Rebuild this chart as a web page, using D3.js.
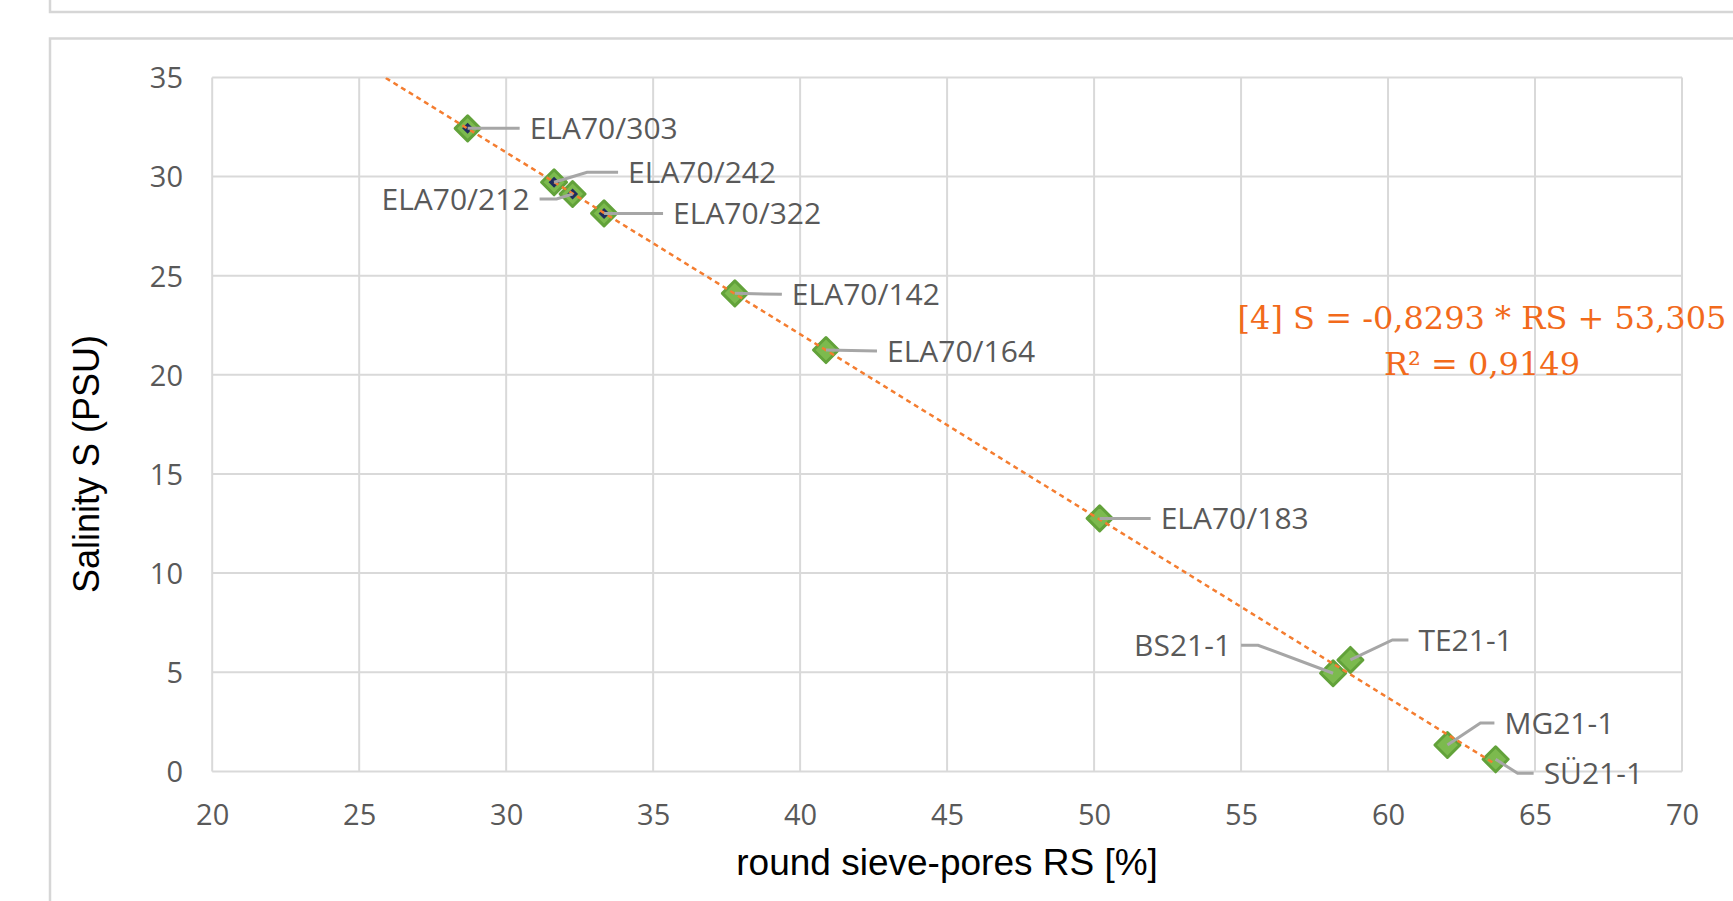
<!DOCTYPE html>
<html>
<head>
<meta charset="utf-8">
<script src="https://cdn.jsdelivr.net/npm/d3@7/dist/d3.min.js"></script>
<style>
  html, body { margin: 0; padding: 0; background: #fff; }
  svg { display: block; }
</style>
</head>
<body>
<svg id="chart" width="1733" height="901"></svg>
<script>
// ---------- data ----------
const sampleNames = ["ELA70/303", "ELA70/242", "ELA70/212", "ELA70/322", "ELA70/142",
                     "ELA70/164", "ELA70/183", "BS21-1", "TE21-1", "MG21-1", "SÜ21-1"];
const roundSievePores = [28.69, 31.63, 32.26, 33.33, 37.78, 40.88, 50.19, 58.13, 58.72, 62.02, 63.66];
const salinity        = [32.43, 29.71, 29.12, 28.14, 24.11, 21.25, 12.76, 4.95, 5.62, 1.33, 0.61];
const xTicks = [20, 25, 30, 35, 40, 45, 50, 55, 60, 65, 70];
const yTicks = [0, 5, 10, 15, 20, 25, 30, 35];
const xTitle = "round sieve-pores RS [%]";
const yTitle = "Salinity S (PSU)";
const equationLines = ["[4] S = -0,8293 * RS + 53,305", "R² = 0,9149"];
const darkCentreSamples = ["ELA70/303", "ELA70/242", "ELA70/212", "ELA70/322"];

// ---------- layout ----------
const plot = { left: 212.2, right: 1682, top: 77.4, bottom: 771.4 };
// label placement relative to each point (pixels): dx, dy, side (+1 right, -1 left), seg = horizontal leader part
const labelLayout = [
  { dx: 62,  dy: 0,   side: 1,  seg: 0 },
  { dx: 74,  dy: -10, side: 1,  seg: 31 },
  { dx: -43, dy: 5,   side: -1, seg: 17 },
  { dx: 69,  dy: 0,   side: 1,  seg: 0 },
  { dx: 57,  dy: 1,   side: 1,  seg: 0 },
  { dx: 61,  dy: 1,   side: 1,  seg: 0 },
  { dx: 61,  dy: 0,   side: 1,  seg: 0 },
  { dx: -102, dy: -28, side: -1, seg: 17 },
  { dx: 68,  dy: -20, side: 1,  seg: 16 },
  { dx: 57,  dy: -22, side: 1,  seg: 14 },
  { dx: 48,  dy: 14,  side: 1,  seg: 16 }
];

const svg = d3.select("#chart");
const grid = "#D9D9D9";

// panel borders
svg.append("path").attr("d", "M50,0 V12 H1733").attr("fill", "none")
  .attr("stroke", "#D6D6D6").attr("stroke-width", 2.5);
svg.append("path").attr("d", "M1733,38.5 H50 V901").attr("fill", "none")
  .attr("stroke", "#D6D6D6").attr("stroke-width", 2.5);

const x = d3.scaleLinear().domain([20, 70]).range([plot.left, plot.right]);
const y = d3.scaleLinear().domain([0, 35]).range([plot.bottom, plot.top]);

// gridlines
const g = svg.append("g");
g.selectAll("line.vx").data(xTicks).enter().append("line")
  .attr("x1", d => x(d)).attr("x2", d => x(d))
  .attr("y1", y(35)).attr("y2", y(0))
  .attr("stroke", grid).attr("stroke-width", 2);
g.selectAll("line.hy").data(yTicks).enter().append("line")
  .attr("x1", x(20)).attr("x2", x(70))
  .attr("y1", d => y(d)).attr("y2", d => y(d))
  .attr("stroke", grid).attr("stroke-width", 2);

// axes (labels only)
const tickFont = "'Open Sans', 'DejaVu Sans', sans-serif";
const xAxis = d3.axisBottom(x).tickValues(xTicks).tickSize(0).tickPadding(0).tickFormat(d3.format("d"));
const xg = svg.append("g").attr("transform", `translate(0,${plot.bottom})`).call(xAxis);
xg.select(".domain").remove();
xg.selectAll("text").attr("font-family", tickFont).attr("font-size", 29)
  .attr("fill", "#595959").attr("dy", null).attr("y", 54);

const yAxis = d3.axisLeft(y).tickValues(yTicks).tickSize(0).tickPadding(0).tickFormat(d3.format("d"));
const yg = svg.append("g").attr("transform", `translate(${183},0)`).call(yAxis);
yg.select(".domain").remove();
yg.selectAll("text").attr("font-family", tickFont).attr("font-size", 29)
  .attr("fill", "#595959").attr("x", 0).attr("dy", "0.36em");

// axis titles
svg.append("text").attr("x", (plot.left + plot.right) / 2).attr("y", 875)
  .attr("text-anchor", "middle").attr("font-family", "'Liberation Sans', Arial, sans-serif")
  .attr("font-size", 37).attr("fill", "#000").text(xTitle);
svg.append("text").attr("transform", "translate(99,464) rotate(-90)")
  .attr("text-anchor", "middle").attr("font-family", "'Liberation Sans', Arial, sans-serif")
  .attr("font-size", 36).attr("fill", "#000").text(yTitle);

// data
const pts = sampleNames.map((n, i) => ({ name: n, rs: roundSievePores[i], s: salinity[i], lay: labelLayout[i] }));

// markers
const diamond = r => `M0,${-r} L${r},0 L0,${r} L${-r},0 Z`;
const mk = svg.append("g");
mk.selectAll("path.outer").data(pts).enter().append("path")
  .attr("d", diamond(12.5))
  .attr("transform", d => `translate(${x(d.rs)},${y(d.s)})`)
  .attr("fill", "#7CBA4E").attr("stroke", "#62A23A").attr("stroke-width", 3).attr("stroke-linejoin", "round");
mk.selectAll("path.inner").data(pts.filter(d => darkCentreSamples.includes(d.name))).enter().append("path")
  .attr("d", diamond(5.5))
  .attr("transform", d => `translate(${x(d.rs)},${y(d.s)})`)
  .attr("fill", "#1F2C5E");

// linear trendline (least squares on the data), backward forecast, clipped to plot area
const n = pts.length;
const mx = d3.mean(roundSievePores), my = d3.mean(salinity);
let sxy = 0, sxx = 0;
for (let i = 0; i < n; i++) {
  sxy += (roundSievePores[i] - mx) * (salinity[i] - my);
  sxx += (roundSievePores[i] - mx) ** 2;
}
const slope = sxy / sxx, intercept = my - slope * mx;
svg.append("clipPath").attr("id", "plotclip").append("rect")
  .attr("x", plot.left).attr("y", plot.top).attr("width", plot.right - plot.left).attr("height", plot.bottom - plot.top);
const x0 = 22, x1 = d3.max(roundSievePores);
svg.append("line").attr("clip-path", "url(#plotclip)")
  .attr("x1", x(x0)).attr("y1", y(slope * x0 + intercept))
  .attr("x2", x(x1)).attr("y2", y(slope * x1 + intercept))
  .attr("stroke", "#F47D30").attr("stroke-width", 2.5).attr("stroke-dasharray", "5,4");

// leader lines + labels
const lab = svg.append("g");
pts.forEach(d => {
  const px = x(d.rs), py = y(d.s), L = d.lay;
  const lx = px + L.dx, ly = py + L.dy;
  const endX = lx - L.side * 10;
  const elbowX = endX - L.side * L.seg;
  const pathD = L.seg > 0 ? `M${px},${py} L${elbowX},${ly} L${endX},${ly}` : `M${px},${py} L${endX},${ly}`;
  lab.append("path").attr("d", pathD).attr("fill", "none")
    .attr("stroke", "#A6A6A6").attr("stroke-width", 3);
  lab.append("text").attr("x", lx).attr("y", ly).attr("dy", "0.36em")
    .attr("text-anchor", L.side > 0 ? "start" : "end")
    .attr("font-family", tickFont).attr("font-size", 30).attr("fill", "#595959")
    .text(d.name);
});

// equation
const eq = svg.append("text").attr("text-anchor", "middle")
  .attr("font-family", "'DejaVu Serif', 'Liberation Serif', serif")
  .attr("font-size", 32).attr("fill", "#F26A1B");
equationLines.forEach((t, i) => {
  eq.append("tspan").attr("x", 1482).attr("y", 329 + i * 46).text(t);
});
</script>
</body>
</html>
